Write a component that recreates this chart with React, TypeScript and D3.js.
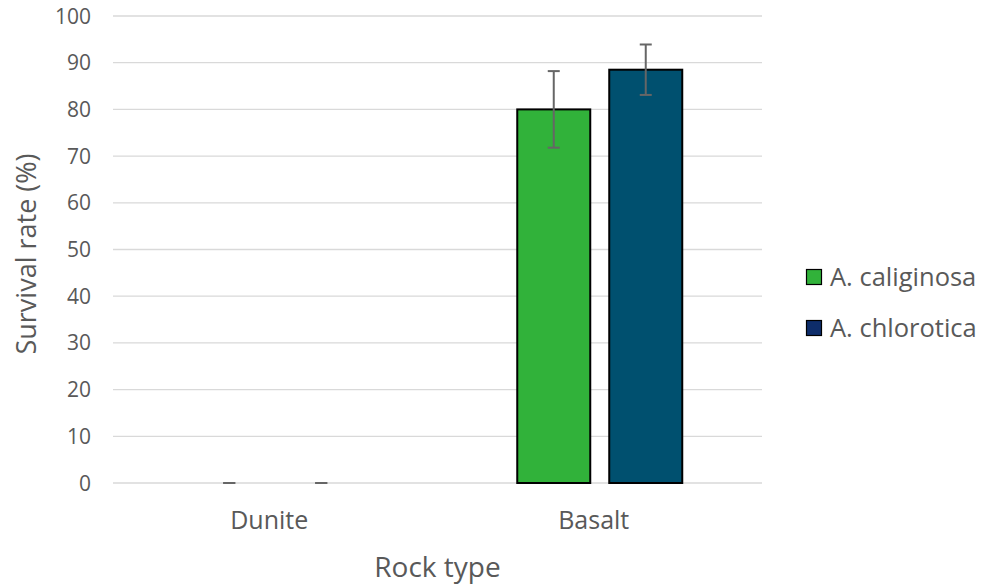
import React from "react";
import * as d3 from "d3";

const categories = ["Dunite", "Basalt"];
const seriesNames = ["A. caliginosa", "A. chlorotica"];
const caliginosa = [0, 80.0];
const chlorotica = [0, 88.5];
const caliginosaErr = [0, 8.2];
const chloroticaErr = [0, 5.4];
const yTicks = [0, 10, 20, 30, 40, 50, 60, 70, 80, 90, 100];

const barColors = ["#31B23A", "#00506F"];
const legendColors = ["#31B23A", "#0E2D6A"];
const FONT = "Open Sans, Liberation Sans, sans-serif";
const TXT = "#595959";

export default function App() {
  const W = 984, H = 586;
  const left = 113, right = 762, top = 16, bottom = 483;
  const x = d3.scaleBand().domain(categories).range([left, right]);
  const y = d3.scaleLinear().domain([0, 100]).range([bottom, top]);
  const inner = d3.scaleBand().domain(seriesNames).range([-82.5, 82.5]).paddingInner(0.2065);
  const values = [caliginosa, chlorotica];
  const errs = [caliginosaErr, chloroticaErr];
  const bw = inner.bandwidth();

  return (
    <svg width={W} height={H} style={{ position: "absolute", left: 0, top: 0, background: "#fff" }}>
      {yTicks.map((t) => (
        <g key={t}>
          <line x1={left} x2={right} y1={y(t)} y2={y(t)} stroke="#d9d9d9" strokeWidth={1.3} />
          <text x={91} y={y(t) + 7.5} textAnchor="end" fontFamily={FONT} fontSize={21} fill={TXT}>
            {t}
          </text>
        </g>
      ))}
      {categories.map((c, ci) => {
        const cx = x(c)! + x.bandwidth() / 2;
        return (
          <g key={c}>
            {seriesNames.map((s, si) => {
              const v = values[si][ci];
              const e = errs[si][ci];
              const bx = cx + inner(s)!;
              const mx = bx + bw / 2;
              return (
                <g key={s}>
                  {v > 0 && (
                    <rect x={bx} y={y(v)} width={bw} height={y(0) - y(v)} fill={barColors[si]} stroke="#000" strokeWidth={2} />
                  )}
                  <line x1={mx} x2={mx} y1={y(v + e)} y2={y(v - e)} stroke="#666" strokeWidth={2} />
                  <line x1={mx - 6} x2={mx + 6} y1={y(v + e)} y2={y(v + e)} stroke="#666" strokeWidth={2} />
                  <line x1={mx - 6} x2={mx + 6} y1={y(v - e)} y2={y(v - e)} stroke="#666" strokeWidth={2} />
                </g>
              );
            })}
            <text x={cx - 6} y={529} textAnchor="middle" fontFamily={FONT} fontSize={25} fill={TXT}>
              {c}
            </text>
          </g>
        );
      })}
      <text x={(left + right) / 2} y={577} textAnchor="middle" fontFamily={FONT} fontSize={28} fill={TXT}>
        Rock type
      </text>
      <text
        transform={`translate(36, 254) rotate(-90)`}
        textAnchor="middle"
        fontFamily={FONT}
        fontSize={27}
        fill={TXT}
      >
        Survival rate (%)
      </text>
      {seriesNames.map((s, i) => (
        <g key={s} transform={`translate(806, ${269 + i * 51})`}>
          <rect x={0.5} y={0.5} width={15} height={15} fill={legendColors[i]} stroke="#000" strokeWidth={1.2} />
          <text x={24} y={17} fontFamily={FONT} fontSize={25.5} fill={TXT}>
            {s}
          </text>
        </g>
      ))}
    </svg>
  );
}
